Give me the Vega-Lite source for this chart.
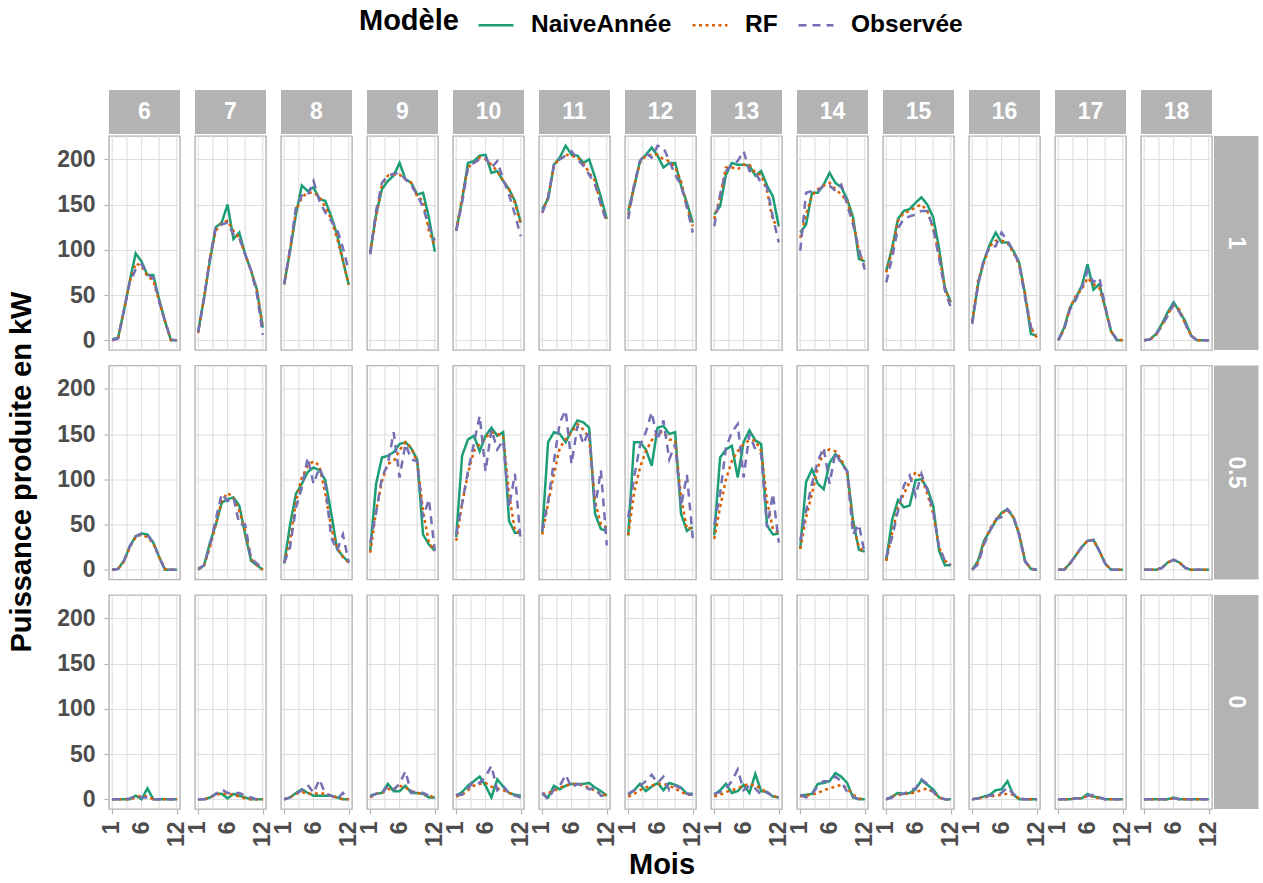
{
"$schema": "https://vega.github.io/schema/vega-lite/v6.json",
"background": "white",
"padding": {"left": 7, "top": 6, "right": 2, "bottom": 2},
"data": {"values": [
{"h":6,"q":"1","m":1,"NaiveAnnée":1,"RF":0,"Observée":0},
{"h":6,"q":"1","m":2,"NaiveAnnée":3,"RF":2,"Observée":2},
{"h":6,"q":"1","m":3,"NaiveAnnée":33,"RF":33,"Observée":33},
{"h":6,"q":"1","m":4,"NaiveAnnée":66,"RF":65,"Observée":65},
{"h":6,"q":"1","m":5,"NaiveAnnée":96,"RF":85,"Observée":78},
{"h":6,"q":"1","m":6,"NaiveAnnée":87,"RF":82,"Observée":84},
{"h":6,"q":"1","m":7,"NaiveAnnée":72,"RF":71,"Observée":73},
{"h":6,"q":"1","m":8,"NaiveAnnée":72,"RF":66,"Observée":69},
{"h":6,"q":"1","m":9,"NaiveAnnée":45,"RF":43,"Observée":43},
{"h":6,"q":"1","m":10,"NaiveAnnée":21,"RF":21,"Observée":21},
{"h":6,"q":"1","m":11,"NaiveAnnée":0,"RF":0,"Observée":1},
{"h":6,"q":"1","m":12,"NaiveAnnée":0,"RF":0,"Observée":0},
{"h":7,"q":"1","m":1,"NaiveAnnée":10,"RF":8,"Observée":9},
{"h":7,"q":"1","m":2,"NaiveAnnée":47,"RF":47,"Observée":47},
{"h":7,"q":"1","m":3,"NaiveAnnée":88,"RF":91,"Observée":91},
{"h":7,"q":"1","m":4,"NaiveAnnée":125,"RF":121,"Observée":126},
{"h":7,"q":"1","m":5,"NaiveAnnée":130,"RF":130,"Observée":128},
{"h":7,"q":"1","m":6,"NaiveAnnée":150,"RF":132,"Observée":130},
{"h":7,"q":"1","m":7,"NaiveAnnée":112,"RF":121,"Observée":117},
{"h":7,"q":"1","m":8,"NaiveAnnée":119,"RF":113,"Observée":113},
{"h":7,"q":"1","m":9,"NaiveAnnée":95,"RF":95,"Observée":95},
{"h":7,"q":"1","m":10,"NaiveAnnée":77,"RF":77,"Observée":77},
{"h":7,"q":"1","m":11,"NaiveAnnée":56,"RF":55,"Observée":51},
{"h":7,"q":"1","m":12,"NaiveAnnée":14,"RF":14,"Observée":6},
{"h":8,"q":"1","m":1,"NaiveAnnée":62,"RF":62,"Observée":62},
{"h":8,"q":"1","m":2,"NaiveAnnée":99,"RF":100,"Observée":102},
{"h":8,"q":"1","m":3,"NaiveAnnée":139,"RF":143,"Observée":147},
{"h":8,"q":"1","m":4,"NaiveAnnée":171,"RF":158,"Observée":160},
{"h":8,"q":"1","m":5,"NaiveAnnée":165,"RF":163,"Observée":160},
{"h":8,"q":"1","m":6,"NaiveAnnée":169,"RF":163,"Observée":176},
{"h":8,"q":"1","m":7,"NaiveAnnée":156,"RF":159,"Observée":154},
{"h":8,"q":"1","m":8,"NaiveAnnée":154,"RF":147,"Observée":141},
{"h":8,"q":"1","m":9,"NaiveAnnée":137,"RF":134,"Observée":132},
{"h":8,"q":"1","m":10,"NaiveAnnée":117,"RF":113,"Observée":123},
{"h":8,"q":"1","m":11,"NaiveAnnée":88,"RF":88,"Observée":102},
{"h":8,"q":"1","m":12,"NaiveAnnée":61,"RF":61,"Observée":77},
{"h":9,"q":"1","m":1,"NaiveAnnée":97,"RF":97,"Observée":95},
{"h":9,"q":"1","m":2,"NaiveAnnée":139,"RF":136,"Observée":143},
{"h":9,"q":"1","m":3,"NaiveAnnée":167,"RF":172,"Observée":174},
{"h":9,"q":"1","m":4,"NaiveAnnée":176,"RF":182,"Observée":182},
{"h":9,"q":"1","m":5,"NaiveAnnée":182,"RF":183,"Observée":184},
{"h":9,"q":"1","m":6,"NaiveAnnée":196,"RF":183,"Observée":185},
{"h":9,"q":"1","m":7,"NaiveAnnée":178,"RF":178,"Observée":178},
{"h":9,"q":"1","m":8,"NaiveAnnée":174,"RF":174,"Observée":171},
{"h":9,"q":"1","m":9,"NaiveAnnée":161,"RF":159,"Observée":161},
{"h":9,"q":"1","m":10,"NaiveAnnée":163,"RF":154,"Observée":147},
{"h":9,"q":"1","m":11,"NaiveAnnée":136,"RF":121,"Observée":126},
{"h":9,"q":"1","m":12,"NaiveAnnée":98,"RF":104,"Observée":110},
{"h":10,"q":"1","m":1,"NaiveAnnée":121,"RF":121,"Observée":121},
{"h":10,"q":"1","m":2,"NaiveAnnée":155,"RF":158,"Observée":152},
{"h":10,"q":"1","m":3,"NaiveAnnée":196,"RF":191,"Observée":191},
{"h":10,"q":"1","m":4,"NaiveAnnée":198,"RF":196,"Observée":196},
{"h":10,"q":"1","m":5,"NaiveAnnée":204,"RF":202,"Observée":200},
{"h":10,"q":"1","m":6,"NaiveAnnée":205,"RF":200,"Observée":202},
{"h":10,"q":"1","m":7,"NaiveAnnée":185,"RF":194,"Observée":191},
{"h":10,"q":"1","m":8,"NaiveAnnée":187,"RF":187,"Observée":198},
{"h":10,"q":"1","m":9,"NaiveAnnée":176,"RF":176,"Observée":178},
{"h":10,"q":"1","m":10,"NaiveAnnée":167,"RF":167,"Observée":161},
{"h":10,"q":"1","m":11,"NaiveAnnée":154,"RF":152,"Observée":139},
{"h":10,"q":"1","m":12,"NaiveAnnée":130,"RF":128,"Observée":115},
{"h":11,"q":"1","m":1,"NaiveAnnée":145,"RF":141,"Observée":141},
{"h":11,"q":"1","m":2,"NaiveAnnée":156,"RF":158,"Observée":158},
{"h":11,"q":"1","m":3,"NaiveAnnée":194,"RF":194,"Observée":194},
{"h":11,"q":"1","m":4,"NaiveAnnée":202,"RF":200,"Observée":200},
{"h":11,"q":"1","m":5,"NaiveAnnée":215,"RF":205,"Observée":204},
{"h":11,"q":"1","m":6,"NaiveAnnée":205,"RF":204,"Observée":209},
{"h":11,"q":"1","m":7,"NaiveAnnée":204,"RF":202,"Observée":200},
{"h":11,"q":"1","m":8,"NaiveAnnée":196,"RF":196,"Observée":193},
{"h":11,"q":"1","m":9,"NaiveAnnée":200,"RF":185,"Observée":183},
{"h":11,"q":"1","m":10,"NaiveAnnée":180,"RF":176,"Observée":172},
{"h":11,"q":"1","m":11,"NaiveAnnée":158,"RF":150,"Observée":150},
{"h":11,"q":"1","m":12,"NaiveAnnée":134,"RF":132,"Observée":130},
{"h":12,"q":"1","m":1,"NaiveAnnée":143,"RF":139,"Observée":134},
{"h":12,"q":"1","m":2,"NaiveAnnée":169,"RF":171,"Observée":172},
{"h":12,"q":"1","m":3,"NaiveAnnée":198,"RF":196,"Observée":198},
{"h":12,"q":"1","m":4,"NaiveAnnée":205,"RF":204,"Observée":207},
{"h":12,"q":"1","m":5,"NaiveAnnée":213,"RF":205,"Observée":202},
{"h":12,"q":"1","m":6,"NaiveAnnée":204,"RF":205,"Observée":215},
{"h":12,"q":"1","m":7,"NaiveAnnée":191,"RF":200,"Observée":213},
{"h":12,"q":"1","m":8,"NaiveAnnée":196,"RF":198,"Observée":198},
{"h":12,"q":"1","m":9,"NaiveAnnée":196,"RF":191,"Observée":183},
{"h":12,"q":"1","m":10,"NaiveAnnée":171,"RF":176,"Observée":171},
{"h":12,"q":"1","m":11,"NaiveAnnée":152,"RF":148,"Observée":147},
{"h":12,"q":"1","m":12,"NaiveAnnée":130,"RF":126,"Observée":119},
{"h":13,"q":"1","m":1,"NaiveAnnée":139,"RF":134,"Observée":126},
{"h":13,"q":"1","m":2,"NaiveAnnée":148,"RF":158,"Observée":161},
{"h":13,"q":"1","m":3,"NaiveAnnée":183,"RF":191,"Observée":187},
{"h":13,"q":"1","m":4,"NaiveAnnée":196,"RF":191,"Observée":194},
{"h":13,"q":"1","m":5,"NaiveAnnée":194,"RF":189,"Observée":198},
{"h":13,"q":"1","m":6,"NaiveAnnée":194,"RF":194,"Observée":209},
{"h":13,"q":"1","m":7,"NaiveAnnée":193,"RF":194,"Observée":187},
{"h":13,"q":"1","m":8,"NaiveAnnée":182,"RF":185,"Observée":185},
{"h":13,"q":"1","m":9,"NaiveAnnée":187,"RF":183,"Observée":174},
{"h":13,"q":"1","m":10,"NaiveAnnée":171,"RF":165,"Observée":169},
{"h":13,"q":"1","m":11,"NaiveAnnée":159,"RF":132,"Observée":136},
{"h":13,"q":"1","m":12,"NaiveAnnée":126,"RF":126,"Observée":108},
{"h":14,"q":"1","m":1,"NaiveAnnée":119,"RF":113,"Observée":99},
{"h":14,"q":"1","m":2,"NaiveAnnée":128,"RF":139,"Observée":163},
{"h":14,"q":"1","m":3,"NaiveAnnée":163,"RF":160,"Observée":165},
{"h":14,"q":"1","m":4,"NaiveAnnée":163,"RF":167,"Observée":165},
{"h":14,"q":"1","m":5,"NaiveAnnée":172,"RF":171,"Observée":171},
{"h":14,"q":"1","m":6,"NaiveAnnée":185,"RF":174,"Observée":171},
{"h":14,"q":"1","m":7,"NaiveAnnée":174,"RF":167,"Observée":165},
{"h":14,"q":"1","m":8,"NaiveAnnée":169,"RF":161,"Observée":172},
{"h":14,"q":"1","m":9,"NaiveAnnée":156,"RF":154,"Observée":150},
{"h":14,"q":"1","m":10,"NaiveAnnée":136,"RF":132,"Observée":128},
{"h":14,"q":"1","m":11,"NaiveAnnée":90,"RF":99,"Observée":101},
{"h":14,"q":"1","m":12,"NaiveAnnée":87,"RF":80,"Observée":78},
{"h":15,"q":"1","m":1,"NaiveAnnée":77,"RF":75,"Observée":64},
{"h":15,"q":"1","m":2,"NaiveAnnée":102,"RF":99,"Observée":91},
{"h":15,"q":"1","m":3,"NaiveAnnée":134,"RF":132,"Observée":124},
{"h":15,"q":"1","m":4,"NaiveAnnée":143,"RF":141,"Observée":134},
{"h":15,"q":"1","m":5,"NaiveAnnée":145,"RF":143,"Observée":137},
{"h":15,"q":"1","m":6,"NaiveAnnée":152,"RF":147,"Observée":139},
{"h":15,"q":"1","m":7,"NaiveAnnée":158,"RF":150,"Observée":143},
{"h":15,"q":"1","m":8,"NaiveAnnée":150,"RF":143,"Observée":143},
{"h":15,"q":"1","m":9,"NaiveAnnée":136,"RF":124,"Observée":124},
{"h":15,"q":"1","m":10,"NaiveAnnée":102,"RF":95,"Observée":91},
{"h":15,"q":"1","m":11,"NaiveAnnée":58,"RF":58,"Observée":55},
{"h":15,"q":"1","m":12,"NaiveAnnée":42,"RF":40,"Observée":36},
{"h":16,"q":"1","m":1,"NaiveAnnée":20,"RF":21,"Observée":18},
{"h":16,"q":"1","m":2,"NaiveAnnée":62,"RF":66,"Observée":62},
{"h":16,"q":"1","m":3,"NaiveAnnée":88,"RF":86,"Observée":90},
{"h":16,"q":"1","m":4,"NaiveAnnée":106,"RF":104,"Observée":104},
{"h":16,"q":"1","m":5,"NaiveAnnée":119,"RF":110,"Observée":104},
{"h":16,"q":"1","m":6,"NaiveAnnée":108,"RF":110,"Observée":119},
{"h":16,"q":"1","m":7,"NaiveAnnée":108,"RF":108,"Observée":110},
{"h":16,"q":"1","m":8,"NaiveAnnée":99,"RF":97,"Observée":99},
{"h":16,"q":"1","m":9,"NaiveAnnée":86,"RF":84,"Observée":84},
{"h":16,"q":"1","m":10,"NaiveAnnée":51,"RF":51,"Observée":47},
{"h":16,"q":"1","m":11,"NaiveAnnée":7,"RF":14,"Observée":14},
{"h":16,"q":"1","m":12,"NaiveAnnée":5,"RF":3,"Observée":7},
{"h":17,"q":"1","m":1,"NaiveAnnée":0,"RF":0,"Observée":0},
{"h":17,"q":"1","m":2,"NaiveAnnée":14,"RF":12,"Observée":12},
{"h":17,"q":"1","m":3,"NaiveAnnée":36,"RF":36,"Observée":34},
{"h":17,"q":"1","m":4,"NaiveAnnée":47,"RF":49,"Observée":45},
{"h":17,"q":"1","m":5,"NaiveAnnée":60,"RF":56,"Observée":58},
{"h":17,"q":"1","m":6,"NaiveAnnée":84,"RF":69,"Observée":77},
{"h":17,"q":"1","m":7,"NaiveAnnée":56,"RF":62,"Observée":64},
{"h":17,"q":"1","m":8,"NaiveAnnée":62,"RF":58,"Observée":69},
{"h":17,"q":"1","m":9,"NaiveAnnée":36,"RF":36,"Observée":38},
{"h":17,"q":"1","m":10,"NaiveAnnée":10,"RF":10,"Observée":10},
{"h":17,"q":"1","m":11,"NaiveAnnée":0,"RF":1,"Observée":1},
{"h":17,"q":"1","m":12,"NaiveAnnée":0,"RF":0,"Observée":0},
{"h":18,"q":"1","m":1,"NaiveAnnée":0,"RF":0,"Observée":0},
{"h":18,"q":"1","m":2,"NaiveAnnée":1,"RF":1,"Observée":1},
{"h":18,"q":"1","m":3,"NaiveAnnée":7,"RF":6,"Observée":6},
{"h":18,"q":"1","m":4,"NaiveAnnée":18,"RF":16,"Observée":16},
{"h":18,"q":"1","m":5,"NaiveAnnée":31,"RF":29,"Observée":27},
{"h":18,"q":"1","m":6,"NaiveAnnée":42,"RF":38,"Observée":40},
{"h":18,"q":"1","m":7,"NaiveAnnée":32,"RF":34,"Observée":31},
{"h":18,"q":"1","m":8,"NaiveAnnée":21,"RF":18,"Observée":18},
{"h":18,"q":"1","m":9,"NaiveAnnée":5,"RF":5,"Observée":5},
{"h":18,"q":"1","m":10,"NaiveAnnée":0,"RF":0,"Observée":0},
{"h":18,"q":"1","m":11,"NaiveAnnée":0,"RF":0,"Observée":0},
{"h":18,"q":"1","m":12,"NaiveAnnée":0,"RF":0,"Observée":0},
{"h":6,"q":"0.5","m":1,"NaiveAnnée":0,"RF":0,"Observée":0},
{"h":6,"q":"0.5","m":2,"NaiveAnnée":1,"RF":1,"Observée":1},
{"h":6,"q":"0.5","m":3,"NaiveAnnée":10,"RF":9,"Observée":10},
{"h":6,"q":"0.5","m":4,"NaiveAnnée":26,"RF":25,"Observée":26},
{"h":6,"q":"0.5","m":5,"NaiveAnnée":37,"RF":36,"Observée":37},
{"h":6,"q":"0.5","m":6,"NaiveAnnée":40,"RF":39,"Observée":40},
{"h":6,"q":"0.5","m":7,"NaiveAnnée":39,"RF":36,"Observée":38},
{"h":6,"q":"0.5","m":8,"NaiveAnnée":30,"RF":29,"Observée":30},
{"h":6,"q":"0.5","m":9,"NaiveAnnée":14,"RF":14,"Observée":14},
{"h":6,"q":"0.5","m":10,"NaiveAnnée":0,"RF":1,"Observée":0},
{"h":6,"q":"0.5","m":11,"NaiveAnnée":0,"RF":0,"Observée":0},
{"h":6,"q":"0.5","m":12,"NaiveAnnée":0,"RF":0,"Observée":0},
{"h":7,"q":"0.5","m":1,"NaiveAnnée":0,"RF":1,"Observée":1},
{"h":7,"q":"0.5","m":2,"NaiveAnnée":5,"RF":5,"Observée":5},
{"h":7,"q":"0.5","m":3,"NaiveAnnée":30,"RF":25,"Observée":27},
{"h":7,"q":"0.5","m":4,"NaiveAnnée":50,"RF":50,"Observée":56},
{"h":7,"q":"0.5","m":5,"NaiveAnnée":74,"RF":76,"Observée":84},
{"h":7,"q":"0.5","m":6,"NaiveAnnée":78,"RF":85,"Observée":76},
{"h":7,"q":"0.5","m":7,"NaiveAnnée":80,"RF":80,"Observée":80},
{"h":7,"q":"0.5","m":8,"NaiveAnnée":71,"RF":65,"Observée":50},
{"h":7,"q":"0.5","m":9,"NaiveAnnée":39,"RF":43,"Observée":50},
{"h":7,"q":"0.5","m":10,"NaiveAnnée":10,"RF":12,"Observée":12},
{"h":7,"q":"0.5","m":11,"NaiveAnnée":5,"RF":5,"Observée":7},
{"h":7,"q":"0.5","m":12,"NaiveAnnée":0,"RF":0,"Observée":1},
{"h":8,"q":"0.5","m":1,"NaiveAnnée":7,"RF":8,"Observée":8},
{"h":8,"q":"0.5","m":2,"NaiveAnnée":50,"RF":32,"Observée":25},
{"h":8,"q":"0.5","m":3,"NaiveAnnée":84,"RF":76,"Observée":69},
{"h":8,"q":"0.5","m":4,"NaiveAnnée":95,"RF":102,"Observée":91},
{"h":8,"q":"0.5","m":5,"NaiveAnnée":108,"RF":115,"Observée":124},
{"h":8,"q":"0.5","m":6,"NaiveAnnée":113,"RF":120,"Observée":95},
{"h":8,"q":"0.5","m":7,"NaiveAnnée":110,"RF":115,"Observée":113},
{"h":8,"q":"0.5","m":8,"NaiveAnnée":99,"RF":84,"Observée":95},
{"h":8,"q":"0.5","m":9,"NaiveAnnée":63,"RF":47,"Observée":36},
{"h":8,"q":"0.5","m":10,"NaiveAnnée":23,"RF":25,"Observée":21},
{"h":8,"q":"0.5","m":11,"NaiveAnnée":15,"RF":14,"Observée":39},
{"h":8,"q":"0.5","m":12,"NaiveAnnée":8,"RF":8,"Observée":8},
{"h":9,"q":"0.5","m":1,"NaiveAnnée":21,"RF":19,"Observée":30},
{"h":9,"q":"0.5","m":2,"NaiveAnnée":95,"RF":65,"Observée":63},
{"h":9,"q":"0.5","m":3,"NaiveAnnée":124,"RF":98,"Observée":102},
{"h":9,"q":"0.5","m":4,"NaiveAnnée":126,"RF":117,"Observée":117},
{"h":9,"q":"0.5","m":5,"NaiveAnnée":130,"RF":120,"Observée":152},
{"h":9,"q":"0.5","m":6,"NaiveAnnée":139,"RF":132,"Observée":102},
{"h":9,"q":"0.5","m":7,"NaiveAnnée":141,"RF":141,"Observée":139},
{"h":9,"q":"0.5","m":8,"NaiveAnnée":134,"RF":135,"Observée":122},
{"h":9,"q":"0.5","m":9,"NaiveAnnée":122,"RF":119,"Observée":120},
{"h":9,"q":"0.5","m":10,"NaiveAnnée":39,"RF":65,"Observée":58},
{"h":9,"q":"0.5","m":11,"NaiveAnnée":28,"RF":30,"Observée":78},
{"h":9,"q":"0.5","m":12,"NaiveAnnée":21,"RF":21,"Observée":21},
{"h":10,"q":"0.5","m":1,"NaiveAnnée":36,"RF":32,"Observée":39},
{"h":10,"q":"0.5","m":2,"NaiveAnnée":126,"RF":73,"Observée":73},
{"h":10,"q":"0.5","m":3,"NaiveAnnée":144,"RF":106,"Observée":109},
{"h":10,"q":"0.5","m":4,"NaiveAnnée":148,"RF":131,"Observée":139},
{"h":10,"q":"0.5","m":5,"NaiveAnnée":131,"RF":139,"Observée":170},
{"h":10,"q":"0.5","m":6,"NaiveAnnée":148,"RF":146,"Observée":109},
{"h":10,"q":"0.5","m":7,"NaiveAnnée":157,"RF":152,"Observée":155},
{"h":10,"q":"0.5","m":8,"NaiveAnnée":148,"RF":150,"Observée":133},
{"h":10,"q":"0.5","m":9,"NaiveAnnée":152,"RF":148,"Observée":143},
{"h":10,"q":"0.5","m":10,"NaiveAnnée":54,"RF":84,"Observée":69},
{"h":10,"q":"0.5","m":11,"NaiveAnnée":41,"RF":43,"Observée":106},
{"h":10,"q":"0.5","m":12,"NaiveAnnée":41,"RF":41,"Observée":30},
{"h":11,"q":"0.5","m":1,"NaiveAnnée":41,"RF":39,"Observée":43},
{"h":11,"q":"0.5","m":2,"NaiveAnnée":141,"RF":73,"Observée":76},
{"h":11,"q":"0.5","m":3,"NaiveAnnée":152,"RF":106,"Observée":120},
{"h":11,"q":"0.5","m":4,"NaiveAnnée":150,"RF":135,"Observée":163},
{"h":11,"q":"0.5","m":5,"NaiveAnnée":141,"RF":144,"Observée":176},
{"h":11,"q":"0.5","m":6,"NaiveAnnée":154,"RF":152,"Observée":117},
{"h":11,"q":"0.5","m":7,"NaiveAnnée":165,"RF":161,"Observée":159},
{"h":11,"q":"0.5","m":8,"NaiveAnnée":163,"RF":155,"Observée":139},
{"h":11,"q":"0.5","m":9,"NaiveAnnée":157,"RF":146,"Observée":154},
{"h":11,"q":"0.5","m":10,"NaiveAnnée":62,"RF":76,"Observée":69},
{"h":11,"q":"0.5","m":11,"NaiveAnnée":45,"RF":50,"Observée":110},
{"h":11,"q":"0.5","m":12,"NaiveAnnée":43,"RF":47,"Observée":27},
{"h":12,"q":"0.5","m":1,"NaiveAnnée":38,"RF":38,"Observée":58},
{"h":12,"q":"0.5","m":2,"NaiveAnnée":141,"RF":85,"Observée":102},
{"h":12,"q":"0.5","m":3,"NaiveAnnée":141,"RF":113,"Observée":137},
{"h":12,"q":"0.5","m":4,"NaiveAnnée":133,"RF":131,"Observée":152},
{"h":12,"q":"0.5","m":5,"NaiveAnnée":115,"RF":143,"Observée":174},
{"h":12,"q":"0.5","m":6,"NaiveAnnée":157,"RF":152,"Observée":143},
{"h":12,"q":"0.5","m":7,"NaiveAnnée":159,"RF":152,"Observée":165},
{"h":12,"q":"0.5","m":8,"NaiveAnnée":150,"RF":144,"Observée":122},
{"h":12,"q":"0.5","m":9,"NaiveAnnée":152,"RF":143,"Observée":139},
{"h":12,"q":"0.5","m":10,"NaiveAnnée":62,"RF":80,"Observée":70},
{"h":12,"q":"0.5","m":11,"NaiveAnnée":43,"RF":45,"Observée":105},
{"h":12,"q":"0.5","m":12,"NaiveAnnée":47,"RF":47,"Observée":35},
{"h":13,"q":"0.5","m":1,"NaiveAnnée":38,"RF":34,"Observée":50},
{"h":13,"q":"0.5","m":2,"NaiveAnnée":124,"RF":69,"Observée":84},
{"h":13,"q":"0.5","m":3,"NaiveAnnée":133,"RF":100,"Observée":135},
{"h":13,"q":"0.5","m":4,"NaiveAnnée":137,"RF":120,"Observée":152},
{"h":13,"q":"0.5","m":5,"NaiveAnnée":102,"RF":131,"Observée":161},
{"h":13,"q":"0.5","m":6,"NaiveAnnée":141,"RF":139,"Observée":102},
{"h":13,"q":"0.5","m":7,"NaiveAnnée":154,"RF":143,"Observée":150},
{"h":13,"q":"0.5","m":8,"NaiveAnnée":143,"RF":143,"Observée":133},
{"h":13,"q":"0.5","m":9,"NaiveAnnée":139,"RF":131,"Observée":128},
{"h":13,"q":"0.5","m":10,"NaiveAnnée":49,"RF":76,"Observée":47},
{"h":13,"q":"0.5","m":11,"NaiveAnnée":39,"RF":45,"Observée":84},
{"h":13,"q":"0.5","m":12,"NaiveAnnée":40,"RF":41,"Observée":30},
{"h":14,"q":"0.5","m":1,"NaiveAnnée":23,"RF":23,"Observée":32},
{"h":14,"q":"0.5","m":2,"NaiveAnnée":97,"RF":58,"Observée":65},
{"h":14,"q":"0.5","m":3,"NaiveAnnée":111,"RF":84,"Observée":95},
{"h":14,"q":"0.5","m":4,"NaiveAnnée":95,"RF":113,"Observée":120},
{"h":14,"q":"0.5","m":5,"NaiveAnnée":89,"RF":130,"Observée":135},
{"h":14,"q":"0.5","m":6,"NaiveAnnée":118,"RF":133,"Observée":95},
{"h":14,"q":"0.5","m":7,"NaiveAnnée":128,"RF":131,"Observée":130},
{"h":14,"q":"0.5","m":8,"NaiveAnnée":119,"RF":122,"Observée":117},
{"h":14,"q":"0.5","m":9,"NaiveAnnée":109,"RF":106,"Observée":109},
{"h":14,"q":"0.5","m":10,"NaiveAnnée":55,"RF":50,"Observée":39},
{"h":14,"q":"0.5","m":11,"NaiveAnnée":22,"RF":25,"Observée":50},
{"h":14,"q":"0.5","m":12,"NaiveAnnée":20,"RF":19,"Observée":17},
{"h":15,"q":"0.5","m":1,"NaiveAnnée":10,"RF":10,"Observée":14},
{"h":15,"q":"0.5","m":2,"NaiveAnnée":55,"RF":40,"Observée":36},
{"h":15,"q":"0.5","m":3,"NaiveAnnée":77,"RF":69,"Observée":65},
{"h":15,"q":"0.5","m":4,"NaiveAnnée":69,"RF":84,"Observée":93},
{"h":15,"q":"0.5","m":5,"NaiveAnnée":71,"RF":97,"Observée":104},
{"h":15,"q":"0.5","m":6,"NaiveAnnée":99,"RF":108,"Observée":82},
{"h":15,"q":"0.5","m":7,"NaiveAnnée":100,"RF":102,"Observée":106},
{"h":15,"q":"0.5","m":8,"NaiveAnnée":90,"RF":84,"Observée":88},
{"h":15,"q":"0.5","m":9,"NaiveAnnée":71,"RF":62,"Observée":65},
{"h":15,"q":"0.5","m":10,"NaiveAnnée":21,"RF":25,"Observée":25},
{"h":15,"q":"0.5","m":11,"NaiveAnnée":5,"RF":10,"Observée":10},
{"h":15,"q":"0.5","m":12,"NaiveAnnée":5,"RF":5,"Observée":5},
{"h":16,"q":"0.5","m":1,"NaiveAnnée":0,"RF":0,"Observée":0},
{"h":16,"q":"0.5","m":2,"NaiveAnnée":10,"RF":8,"Observée":6},
{"h":16,"q":"0.5","m":3,"NaiveAnnée":32,"RF":30,"Observée":28},
{"h":16,"q":"0.5","m":4,"NaiveAnnée":43,"RF":45,"Observée":43},
{"h":16,"q":"0.5","m":5,"NaiveAnnée":54,"RF":55,"Observée":56},
{"h":16,"q":"0.5","m":6,"NaiveAnnée":63,"RF":62,"Observée":58},
{"h":16,"q":"0.5","m":7,"NaiveAnnée":67,"RF":66,"Observée":67},
{"h":16,"q":"0.5","m":8,"NaiveAnnée":58,"RF":58,"Observée":60},
{"h":16,"q":"0.5","m":9,"NaiveAnnée":39,"RF":40,"Observée":38},
{"h":16,"q":"0.5","m":10,"NaiveAnnée":10,"RF":10,"Observée":9},
{"h":16,"q":"0.5","m":11,"NaiveAnnée":1,"RF":1,"Observée":1},
{"h":16,"q":"0.5","m":12,"NaiveAnnée":0,"RF":0,"Observée":0},
{"h":17,"q":"0.5","m":1,"NaiveAnnée":0,"RF":0,"Observée":0},
{"h":17,"q":"0.5","m":2,"NaiveAnnée":0,"RF":0,"Observée":0},
{"h":17,"q":"0.5","m":3,"NaiveAnnée":7,"RF":7,"Observée":7},
{"h":17,"q":"0.5","m":4,"NaiveAnnée":16,"RF":16,"Observée":16},
{"h":17,"q":"0.5","m":5,"NaiveAnnée":25,"RF":25,"Observée":25},
{"h":17,"q":"0.5","m":6,"NaiveAnnée":32,"RF":32,"Observée":32},
{"h":17,"q":"0.5","m":7,"NaiveAnnée":33,"RF":33,"Observée":33},
{"h":17,"q":"0.5","m":8,"NaiveAnnée":21,"RF":21,"Observée":21},
{"h":17,"q":"0.5","m":9,"NaiveAnnée":7,"RF":7,"Observée":7},
{"h":17,"q":"0.5","m":10,"NaiveAnnée":0,"RF":0,"Observée":0},
{"h":17,"q":"0.5","m":11,"NaiveAnnée":0,"RF":0,"Observée":0},
{"h":17,"q":"0.5","m":12,"NaiveAnnée":0,"RF":0,"Observée":0},
{"h":18,"q":"0.5","m":1,"NaiveAnnée":0,"RF":0,"Observée":0},
{"h":18,"q":"0.5","m":2,"NaiveAnnée":0,"RF":0,"Observée":0},
{"h":18,"q":"0.5","m":3,"NaiveAnnée":0,"RF":0,"Observée":0},
{"h":18,"q":"0.5","m":4,"NaiveAnnée":2,"RF":2,"Observée":2},
{"h":18,"q":"0.5","m":5,"NaiveAnnée":8,"RF":8,"Observée":8},
{"h":18,"q":"0.5","m":6,"NaiveAnnée":11,"RF":11,"Observée":11},
{"h":18,"q":"0.5","m":7,"NaiveAnnée":8,"RF":8,"Observée":8},
{"h":18,"q":"0.5","m":8,"NaiveAnnée":2,"RF":2,"Observée":2},
{"h":18,"q":"0.5","m":9,"NaiveAnnée":0,"RF":0,"Observée":0},
{"h":18,"q":"0.5","m":10,"NaiveAnnée":0,"RF":0,"Observée":0},
{"h":18,"q":"0.5","m":11,"NaiveAnnée":0,"RF":0,"Observée":0},
{"h":18,"q":"0.5","m":12,"NaiveAnnée":0,"RF":0,"Observée":0},
{"h":6,"q":"0","m":1,"NaiveAnnée":0,"RF":0,"Observée":0},
{"h":6,"q":"0","m":2,"NaiveAnnée":0,"RF":0,"Observée":0},
{"h":6,"q":"0","m":3,"NaiveAnnée":0,"RF":0,"Observée":0},
{"h":6,"q":"0","m":4,"NaiveAnnée":0,"RF":0,"Observée":1},
{"h":6,"q":"0","m":5,"NaiveAnnée":4,"RF":2,"Observée":4},
{"h":6,"q":"0","m":6,"NaiveAnnée":0,"RF":4,"Observée":2},
{"h":6,"q":"0","m":7,"NaiveAnnée":12,"RF":3,"Observée":2},
{"h":6,"q":"0","m":8,"NaiveAnnée":0,"RF":0,"Observée":0},
{"h":6,"q":"0","m":9,"NaiveAnnée":0,"RF":0,"Observée":0},
{"h":6,"q":"0","m":10,"NaiveAnnée":0,"RF":0,"Observée":0},
{"h":6,"q":"0","m":11,"NaiveAnnée":0,"RF":0,"Observée":0},
{"h":6,"q":"0","m":12,"NaiveAnnée":0,"RF":0,"Observée":0},
{"h":7,"q":"0","m":1,"NaiveAnnée":0,"RF":0,"Observée":0},
{"h":7,"q":"0","m":2,"NaiveAnnée":0,"RF":0,"Observée":0},
{"h":7,"q":"0","m":3,"NaiveAnnée":2,"RF":2,"Observée":1},
{"h":7,"q":"0","m":4,"NaiveAnnée":6,"RF":5,"Observée":6},
{"h":7,"q":"0","m":5,"NaiveAnnée":6,"RF":6,"Observée":11},
{"h":7,"q":"0","m":6,"NaiveAnnée":1,"RF":6,"Observée":7},
{"h":7,"q":"0","m":7,"NaiveAnnée":6,"RF":5,"Observée":7},
{"h":7,"q":"0","m":8,"NaiveAnnée":4,"RF":3,"Observée":7},
{"h":7,"q":"0","m":9,"NaiveAnnée":2,"RF":1,"Observée":4},
{"h":7,"q":"0","m":10,"NaiveAnnée":0,"RF":0,"Observée":2},
{"h":7,"q":"0","m":11,"NaiveAnnée":0,"RF":0,"Observée":0},
{"h":7,"q":"0","m":12,"NaiveAnnée":0,"RF":0,"Observée":0},
{"h":8,"q":"0","m":1,"NaiveAnnée":0,"RF":0,"Observée":0},
{"h":8,"q":"0","m":2,"NaiveAnnée":2,"RF":2,"Observée":2},
{"h":8,"q":"0","m":3,"NaiveAnnée":7,"RF":6,"Observée":6},
{"h":8,"q":"0","m":4,"NaiveAnnée":11,"RF":8,"Observée":10},
{"h":8,"q":"0","m":5,"NaiveAnnée":7,"RF":6,"Observée":16},
{"h":8,"q":"0","m":6,"NaiveAnnée":4,"RF":6,"Observée":7},
{"h":8,"q":"0","m":7,"NaiveAnnée":4,"RF":7,"Observée":22},
{"h":8,"q":"0","m":8,"NaiveAnnée":4,"RF":6,"Observée":6},
{"h":8,"q":"0","m":9,"NaiveAnnée":4,"RF":4,"Observée":4},
{"h":8,"q":"0","m":10,"NaiveAnnée":2,"RF":2,"Observée":0},
{"h":8,"q":"0","m":11,"NaiveAnnée":0,"RF":0,"Observée":7},
{"h":8,"q":"0","m":12,"NaiveAnnée":0,"RF":0,"Observée":0},
{"h":9,"q":"0","m":1,"NaiveAnnée":4,"RF":2,"Observée":3},
{"h":9,"q":"0","m":2,"NaiveAnnée":6,"RF":6,"Observée":6},
{"h":9,"q":"0","m":3,"NaiveAnnée":7,"RF":7,"Observée":6},
{"h":9,"q":"0","m":4,"NaiveAnnée":17,"RF":11,"Observée":15},
{"h":9,"q":"0","m":5,"NaiveAnnée":9,"RF":11,"Observée":11},
{"h":9,"q":"0","m":6,"NaiveAnnée":9,"RF":15,"Observée":17},
{"h":9,"q":"0","m":7,"NaiveAnnée":15,"RF":13,"Observée":31},
{"h":9,"q":"0","m":8,"NaiveAnnée":7,"RF":9,"Observée":7},
{"h":9,"q":"0","m":9,"NaiveAnnée":7,"RF":7,"Observée":9},
{"h":9,"q":"0","m":10,"NaiveAnnée":6,"RF":6,"Observée":7},
{"h":9,"q":"0","m":11,"NaiveAnnée":2,"RF":4,"Observée":4},
{"h":9,"q":"0","m":12,"NaiveAnnée":2,"RF":2,"Observée":2},
{"h":10,"q":"0","m":1,"NaiveAnnée":4,"RF":3,"Observée":5},
{"h":10,"q":"0","m":2,"NaiveAnnée":8,"RF":5,"Observée":5},
{"h":10,"q":"0","m":3,"NaiveAnnée":15,"RF":10,"Observée":12},
{"h":10,"q":"0","m":4,"NaiveAnnée":20,"RF":15,"Observée":20},
{"h":10,"q":"0","m":5,"NaiveAnnée":25,"RF":17,"Observée":18},
{"h":10,"q":"0","m":6,"NaiveAnnée":15,"RF":18,"Observée":25},
{"h":10,"q":"0","m":7,"NaiveAnnée":2,"RF":14,"Observée":37},
{"h":10,"q":"0","m":8,"NaiveAnnée":22,"RF":12,"Observée":10},
{"h":10,"q":"0","m":9,"NaiveAnnée":14,"RF":10,"Observée":15},
{"h":10,"q":"0","m":10,"NaiveAnnée":7,"RF":7,"Observée":6},
{"h":10,"q":"0","m":11,"NaiveAnnée":5,"RF":4,"Observée":4},
{"h":10,"q":"0","m":12,"NaiveAnnée":4,"RF":3,"Observée":2},
{"h":11,"q":"0","m":1,"NaiveAnnée":6,"RF":6,"Observée":7},
{"h":11,"q":"0","m":2,"NaiveAnnée":2,"RF":7,"Observée":0},
{"h":11,"q":"0","m":3,"NaiveAnnée":15,"RF":9,"Observée":11},
{"h":11,"q":"0","m":4,"NaiveAnnée":11,"RF":13,"Observée":15},
{"h":11,"q":"0","m":5,"NaiveAnnée":15,"RF":15,"Observée":27},
{"h":11,"q":"0","m":6,"NaiveAnnée":17,"RF":17,"Observée":13},
{"h":11,"q":"0","m":7,"NaiveAnnée":17,"RF":17,"Observée":17},
{"h":11,"q":"0","m":8,"NaiveAnnée":17,"RF":15,"Observée":15},
{"h":11,"q":"0","m":9,"NaiveAnnée":18,"RF":13,"Observée":11},
{"h":11,"q":"0","m":10,"NaiveAnnée":13,"RF":9,"Observée":13},
{"h":11,"q":"0","m":11,"NaiveAnnée":9,"RF":6,"Observée":4},
{"h":11,"q":"0","m":12,"NaiveAnnée":4,"RF":4,"Observée":4},
{"h":12,"q":"0","m":1,"NaiveAnnée":5,"RF":3,"Observée":6},
{"h":12,"q":"0","m":2,"NaiveAnnée":10,"RF":6,"Observée":10},
{"h":12,"q":"0","m":3,"NaiveAnnée":17,"RF":10,"Observée":15},
{"h":12,"q":"0","m":4,"NaiveAnnée":9,"RF":13,"Observée":20},
{"h":12,"q":"0","m":5,"NaiveAnnée":14,"RF":15,"Observée":27},
{"h":12,"q":"0","m":6,"NaiveAnnée":18,"RF":17,"Observée":18},
{"h":12,"q":"0","m":7,"NaiveAnnée":10,"RF":17,"Observée":25},
{"h":12,"q":"0","m":8,"NaiveAnnée":18,"RF":15,"Observée":10},
{"h":12,"q":"0","m":9,"NaiveAnnée":16,"RF":12,"Observée":15},
{"h":12,"q":"0","m":10,"NaiveAnnée":13,"RF":8,"Observée":12},
{"h":12,"q":"0","m":11,"NaiveAnnée":6,"RF":5,"Observée":6},
{"h":12,"q":"0","m":12,"NaiveAnnée":6,"RF":5,"Observée":5},
{"h":13,"q":"0","m":1,"NaiveAnnée":5,"RF":3,"Observée":6},
{"h":13,"q":"0","m":2,"NaiveAnnée":10,"RF":5,"Observée":8},
{"h":13,"q":"0","m":3,"NaiveAnnée":17,"RF":8,"Observée":12},
{"h":13,"q":"0","m":4,"NaiveAnnée":7,"RF":10,"Observée":20},
{"h":13,"q":"0","m":5,"NaiveAnnée":9,"RF":12,"Observée":33},
{"h":13,"q":"0","m":6,"NaiveAnnée":16,"RF":15,"Observée":10},
{"h":13,"q":"0","m":7,"NaiveAnnée":7,"RF":17,"Observée":15},
{"h":13,"q":"0","m":8,"NaiveAnnée":28,"RF":15,"Observée":12},
{"h":13,"q":"0","m":9,"NaiveAnnée":9,"RF":12,"Observée":5},
{"h":13,"q":"0","m":10,"NaiveAnnée":8,"RF":7,"Observée":8},
{"h":13,"q":"0","m":11,"NaiveAnnée":3,"RF":4,"Observée":3},
{"h":13,"q":"0","m":12,"NaiveAnnée":2,"RF":2,"Observée":2},
{"h":14,"q":"0","m":1,"NaiveAnnée":4,"RF":3,"Observée":5},
{"h":14,"q":"0","m":2,"NaiveAnnée":5,"RF":4,"Observée":2},
{"h":14,"q":"0","m":3,"NaiveAnnée":6,"RF":5,"Observée":5},
{"h":14,"q":"0","m":4,"NaiveAnnée":17,"RF":7,"Observée":15},
{"h":14,"q":"0","m":5,"NaiveAnnée":18,"RF":10,"Observée":20},
{"h":14,"q":"0","m":6,"NaiveAnnée":20,"RF":12,"Observée":20},
{"h":14,"q":"0","m":7,"NaiveAnnée":29,"RF":14,"Observée":25},
{"h":14,"q":"0","m":8,"NaiveAnnée":25,"RF":16,"Observée":20},
{"h":14,"q":"0","m":9,"NaiveAnnée":18,"RF":12,"Observée":8},
{"h":14,"q":"0","m":10,"NaiveAnnée":2,"RF":5,"Observée":3},
{"h":14,"q":"0","m":11,"NaiveAnnée":0,"RF":1,"Observée":0},
{"h":14,"q":"0","m":12,"NaiveAnnée":0,"RF":0,"Observée":0},
{"h":15,"q":"0","m":1,"NaiveAnnée":0,"RF":0,"Observée":0},
{"h":15,"q":"0","m":2,"NaiveAnnée":3,"RF":3,"Observée":2},
{"h":15,"q":"0","m":3,"NaiveAnnée":7,"RF":5,"Observée":5},
{"h":15,"q":"0","m":4,"NaiveAnnée":6,"RF":6,"Observée":6},
{"h":15,"q":"0","m":5,"NaiveAnnée":7,"RF":6,"Observée":10},
{"h":15,"q":"0","m":6,"NaiveAnnée":11,"RF":8,"Observée":12},
{"h":15,"q":"0","m":7,"NaiveAnnée":21,"RF":10,"Observée":22},
{"h":15,"q":"0","m":8,"NaiveAnnée":16,"RF":12,"Observée":17},
{"h":15,"q":"0","m":9,"NaiveAnnée":11,"RF":8,"Observée":8},
{"h":15,"q":"0","m":10,"NaiveAnnée":2,"RF":2,"Observée":2},
{"h":15,"q":"0","m":11,"NaiveAnnée":0,"RF":0,"Observée":0},
{"h":15,"q":"0","m":12,"NaiveAnnée":0,"RF":0,"Observée":0},
{"h":16,"q":"0","m":1,"NaiveAnnée":0,"RF":0,"Observée":0},
{"h":16,"q":"0","m":2,"NaiveAnnée":1,"RF":1,"Observée":1},
{"h":16,"q":"0","m":3,"NaiveAnnée":3,"RF":2,"Observée":2},
{"h":16,"q":"0","m":4,"NaiveAnnée":5,"RF":3,"Observée":4},
{"h":16,"q":"0","m":5,"NaiveAnnée":10,"RF":4,"Observée":5},
{"h":16,"q":"0","m":6,"NaiveAnnée":11,"RF":5,"Observée":7},
{"h":16,"q":"0","m":7,"NaiveAnnée":20,"RF":6,"Observée":13},
{"h":16,"q":"0","m":8,"NaiveAnnée":5,"RF":5,"Observée":6},
{"h":16,"q":"0","m":9,"NaiveAnnée":0,"RF":1,"Observée":1},
{"h":16,"q":"0","m":10,"NaiveAnnée":0,"RF":0,"Observée":0},
{"h":16,"q":"0","m":11,"NaiveAnnée":0,"RF":0,"Observée":0},
{"h":16,"q":"0","m":12,"NaiveAnnée":0,"RF":0,"Observée":0},
{"h":17,"q":"0","m":1,"NaiveAnnée":0,"RF":0,"Observée":0},
{"h":17,"q":"0","m":2,"NaiveAnnée":0,"RF":0,"Observée":0},
{"h":17,"q":"0","m":3,"NaiveAnnée":0,"RF":0,"Observée":0},
{"h":17,"q":"0","m":4,"NaiveAnnée":1,"RF":1,"Observée":1},
{"h":17,"q":"0","m":5,"NaiveAnnée":1,"RF":1,"Observée":1},
{"h":17,"q":"0","m":6,"NaiveAnnée":6,"RF":4,"Observée":4},
{"h":17,"q":"0","m":7,"NaiveAnnée":3,"RF":3,"Observée":5},
{"h":17,"q":"0","m":8,"NaiveAnnée":2,"RF":1,"Observée":2},
{"h":17,"q":"0","m":9,"NaiveAnnée":0,"RF":0,"Observée":0},
{"h":17,"q":"0","m":10,"NaiveAnnée":0,"RF":0,"Observée":0},
{"h":17,"q":"0","m":11,"NaiveAnnée":0,"RF":0,"Observée":0},
{"h":17,"q":"0","m":12,"NaiveAnnée":0,"RF":0,"Observée":0},
{"h":18,"q":"0","m":1,"NaiveAnnée":0,"RF":0,"Observée":0},
{"h":18,"q":"0","m":2,"NaiveAnnée":0,"RF":0,"Observée":0},
{"h":18,"q":"0","m":3,"NaiveAnnée":0,"RF":0,"Observée":0},
{"h":18,"q":"0","m":4,"NaiveAnnée":0,"RF":0,"Observée":0},
{"h":18,"q":"0","m":5,"NaiveAnnée":0,"RF":0,"Observée":0},
{"h":18,"q":"0","m":6,"NaiveAnnée":2,"RF":1,"Observée":1},
{"h":18,"q":"0","m":7,"NaiveAnnée":0,"RF":0,"Observée":0},
{"h":18,"q":"0","m":8,"NaiveAnnée":0,"RF":0,"Observée":0},
{"h":18,"q":"0","m":9,"NaiveAnnée":0,"RF":0,"Observée":0},
{"h":18,"q":"0","m":10,"NaiveAnnée":0,"RF":0,"Observée":0},
{"h":18,"q":"0","m":11,"NaiveAnnée":0,"RF":0,"Observée":0},
{"h":18,"q":"0","m":12,"NaiveAnnée":0,"RF":0,"Observée":0}
]},
"transform": [{"fold": ["NaiveAnnée", "RF", "Observée"], "as": ["Modèle", "v"]}],
"facet": {
  "row": {"field": "q", "type": "ordinal", "sort": ["1", "0.5", "0"], "title": "Puissance produite en kW",
    "header": {"labels": false, "titleFont": "Liberation Sans", "titleFontSize": 29, "titleFontWeight": "bold", "titleColor": "black", "titlePadding": 9}},
  "column": {"field": "h", "type": "ordinal", "title": "Mois",
    "header": {"labels": false, "titleOrient": "bottom", "titleFont": "Liberation Sans", "titleFontSize": 29, "titleFontWeight": "bold", "titleColor": "black", "titlePadding": 26}}
},
"spacing": {"row": 15.5, "column": 15},
"bounds": "flush",
"spec": {
  "width": 71,
  "height": 214,
  "layer": [
    {
      "transform": [{"filter": "datum['Modèle'] == 'RF' && (datum.m == 1 || datum.m == 6 || datum.m == 12)"}],
      "mark": {"type": "rule", "color": "#DEDEDE", "strokeWidth": 1.1},
      "encoding": {"x": {"field": "m", "type": "quantitative"}}
    },
    {
      "transform": [{"filter": "datum['Modèle'] == 'RF' && datum.m == 1"}],
      "mark": {"type": "rule", "color": "#DEDEDE", "strokeWidth": 1.1},
      "encoding": {"x": {"datum": 3.5}}
    },
    {
      "transform": [{"filter": "datum['Modèle'] == 'RF' && datum.m == 1"}],
      "mark": {"type": "rule", "color": "#DEDEDE", "strokeWidth": 1.1},
      "encoding": {"x": {"datum": 9}}
    },
    {
      "mark": {"type": "line", "strokeWidth": 2.5},
      "encoding": {
        "x": {"field": "m", "type": "quantitative",
          "scale": {"domain": [0.45, 12.55], "nice": false, "zero": false},
          "axis": {"title": null, "grid": false, "values": [1, 6, 12], "labels": false}},
        "y": {"field": "v", "type": "quantitative",
          "scale": {"domain": [-10.75, 225.75], "nice": false, "zero": false},
          "axis": {"title": null, "grid": true, "values": [0, 25, 50, 75, 100, 125, 150, 175, 200, 225], "labelOverlap": false,
            "labelExpr": "datum.value % 50 == 0 ? datum.label : ''",
            "tickOpacity": {"condition": {"test": "datum.value % 50 != 0", "value": 0}, "value": 1},
            "labelPadding": 9}},
        "color": {"field": "Modèle", "type": "nominal",
          "scale": {"domain": ["NaiveAnnée", "RF", "Observée"], "range": ["#1B9E77", "#D95F02", "#7570B3"]}},
        "strokeDash": {"field": "Modèle", "type": "nominal",
          "scale": {"domain": ["NaiveAnnée", "RF", "Observée"], "range": [[1, 0], [3, 3.5], [8, 6]]}}
      }
    },
    {
      "transform": [{"filter": "datum.q == '0' && datum['Modèle'] == 'RF' && (datum.m == 1 || datum.m == 6 || datum.m == 12)"}],
      "mark": {"type": "text", "color": "#4D4D4D", "fontSize": 23, "fontWeight": "bold", "font": "Liberation Sans", "angle": 270, "align": "right", "baseline": "middle"},
      "encoding": {"x": {"field": "m", "type": "quantitative"}, "y": {"datum": -24.5}, "text": {"field": "m", "type": "nominal"}}
    },
    {
      "transform": [{"filter": "datum.q == '0' && datum.m == 1 && datum['Modèle'] == 'RF'"}],
      "mark": {"type": "rect", "opacity": 0},
      "encoding": {"x": {"datum": 0.45}, "x2": {"datum": 12.55}, "y": {"datum": -61.5}, "y2": {"datum": -10.75}}
    },
    {
      "transform": [{"filter": "datum.h == 6 && datum.m == 1 && datum['Modèle'] == 'RF'"}],
      "mark": {"type": "rect", "opacity": 0},
      "encoding": {"x": {"datum": -7.05}, "x2": {"datum": 0.45}, "y": {"datum": -10.75}, "y2": {"datum": 225.75}}
    },
    {
      "transform": [{"filter": "datum.q == '1' && datum.m == 1 && datum['Modèle'] == 'RF'"}],
      "mark": {"type": "rect", "color": "#B3B3B3"},
      "encoding": {"x": {"datum": 0.45}, "x2": {"datum": 12.55}, "y": {"datum": 228}, "y2": {"datum": 276.6}}
    },
    {
      "transform": [{"filter": "datum.q == '1' && datum.m == 1 && datum['Modèle'] == 'RF'"}],
      "mark": {"type": "text", "color": "white", "fontSize": 23, "fontWeight": "bold", "font": "Liberation Sans", "baseline": "middle", "align": "center"},
      "encoding": {"x": {"datum": 6.5}, "y": {"datum": 252.3}, "text": {"field": "h", "type": "nominal"}}
    },
    {
      "transform": [{"filter": "datum.h == 18 && datum.m == 1 && datum['Modèle'] == 'RF'"}],
      "mark": {"type": "rect", "color": "#B3B3B3"},
      "encoding": {"x": {"datum": 12.89}, "x2": {"datum": 20.47}, "y": {"datum": -10.75}, "y2": {"datum": 225.75}}
    },
    {
      "transform": [{"filter": "datum.h == 18 && datum.m == 1 && datum['Modèle'] == 'RF'"}],
      "mark": {"type": "text", "color": "white", "fontSize": 23, "fontWeight": "bold", "font": "Liberation Sans", "baseline": "middle", "align": "center", "angle": 90},
      "encoding": {"x": {"datum": 16.7}, "y": {"datum": 107.5}, "text": {"field": "q", "type": "nominal"}}
    }
  ]
},
"config": {
  "font": "Liberation Sans",
  "view": {"stroke": "#B3B3B3", "strokeWidth": 1.4},
  "axis": {"domain": false, "gridColor": "#DEDEDE", "gridWidth": 1.1, "tickColor": "#B3B3B3", "tickSize": 5, "tickWidth": 1.2,
    "labelFont": "Liberation Sans", "labelFontSize": 23, "labelFontWeight": "bold", "labelColor": "#4D4D4D"},
  "legend": {"orient": "none", "legendX": 250, "legendY": -130, "direction": "horizontal", "titleOrient": "left",
    "titleFont": "Liberation Sans", "titleFontSize": 29, "titleFontWeight": "bold", "titleColor": "black", "titlePadding": 18,
    "labelFont": "Liberation Sans", "labelFontSize": 24.5, "labelFontWeight": "bold", "labelColor": "black", "labelOffset": 16,
    "symbolType": "stroke", "symbolSize": 1225, "symbolStrokeWidth": 2.5, "columnPadding": 15, "labelLimit": 300}
}
}
